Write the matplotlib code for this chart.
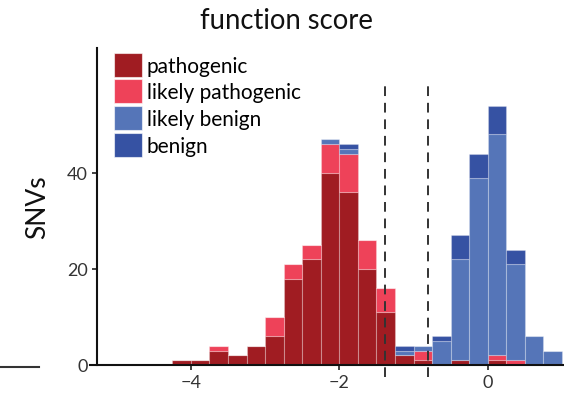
import numpy as np
import matplotlib
matplotlib.use('Agg')
import matplotlib.pyplot as plt
from matplotlib.patches import Patch
from matplotlib.lines import Line2D

plt.rcParams['font.family'] = ['Lato', 'DejaVu Sans']

# ── data: stacked histogram counts, bins of width 0.25 ───────────────────────
bin_left = [-4.25, -4.0, -3.75, -3.5, -3.25, -3.0, -2.75, -2.5, -2.25, -2.0,
            -1.75, -1.5, -1.25, -1.0, -0.75, -0.5, -0.25, 0.0, 0.25, 0.5, 0.75]
bin_width = 0.25

pathogenic        = [1, 1, 3, 2, 4, 6, 18, 22, 40, 36, 20, 11, 2, 1, 0, 1, 0, 1, 0, 0, 0]
likely_pathogenic = [0, 0, 1, 0, 0, 4, 3, 3, 6, 8, 6, 5, 0, 2, 0, 0, 0, 1, 1, 0, 0]
likely_benign     = [0, 0, 0, 0, 0, 0, 0, 0, 1, 1, 0, 0, 1, 1, 5, 21, 39, 46, 20, 6, 3]
benign            = [0, 0, 0, 0, 0, 0, 0, 0, 0, 1, 0, 0, 1, 0, 1, 5, 5, 6, 3, 0, 0]

labels = ['pathogenic', 'likely pathogenic', 'likely benign', 'benign']
colors = ['#a01c22', '#ee4259', '#5575b8', '#3652a3']

thresholds = [-1.38, -0.80]
yticks = [0, 20, 40]
xticks = [-4, -2, 0]

# ── figure ───────────────────────────────────────────────────────────────────
fig = plt.figure(figsize=(5.64, 4.02), dpi=100)
ax = fig.add_axes([90 / 564, 36 / 402, 474 / 564, 317 / 402])

series = [pathogenic, likely_pathogenic, likely_benign, benign]
bottom = np.zeros(len(bin_left))
for vals, col in zip(series, colors):
    vals = np.array(vals, dtype=float)
    ax.bar(bin_left, vals, width=bin_width, bottom=bottom, align='edge',
           color=col, edgecolor=(1, 1, 1, 0.25), linewidth=0.8)
    bottom += vals

for t in thresholds:
    ax.plot([t, t], [-2.4, 58], color='#333333', lw=1.4, ls=(0, (5, 3.5)),
            clip_on=False, zorder=3)

ax.set_xlim(-5.36, 1.028)
ax.set_ylim(0, 66)

for s in ['top', 'right']:
    ax.spines[s].set_visible(False)
ax.spines['left'].set_position(('axes', 7 / 474))
for s in ['left', 'bottom']:
    ax.spines[s].set_linewidth(1.5)
    ax.spines[s].set_color('#111111')

ax.set_xticks(xticks)
ax.set_xticklabels(['\u2212' + str(abs(x)) if x < 0 else str(x) for x in xticks])
ax.set_yticks(yticks)
ax.tick_params(axis='both', length=3.5, width=1.2, labelsize=13,
               labelcolor='#333333', color='#222222', pad=3)

ax.set_ylabel('SNVs', fontsize=19, color='#111111', labelpad=12)
fig.text(0.507, 0.947, 'function score', ha='center', va='center',
         fontsize=19.8, color='#111111')

handles = [Patch(facecolor=c, edgecolor=(1, 1, 1, 0.6), linewidth=0.8) for c in colors]
ax.legend(handles, labels, loc='upper left', bbox_to_anchor=(0.05, 0.985),
          frameon=False, fontsize=15, handlelength=1.38, handleheight=1.38,
          handletextpad=0.2, labelspacing=0.14, borderaxespad=0, borderpad=0)

# stray axis fragment at the far left
fig.add_artist(Line2D([0.0, 39 / 564], [34 / 402, 34 / 402], color='#333333', lw=1.5))

fig.savefig('out.png', dpi=100)
